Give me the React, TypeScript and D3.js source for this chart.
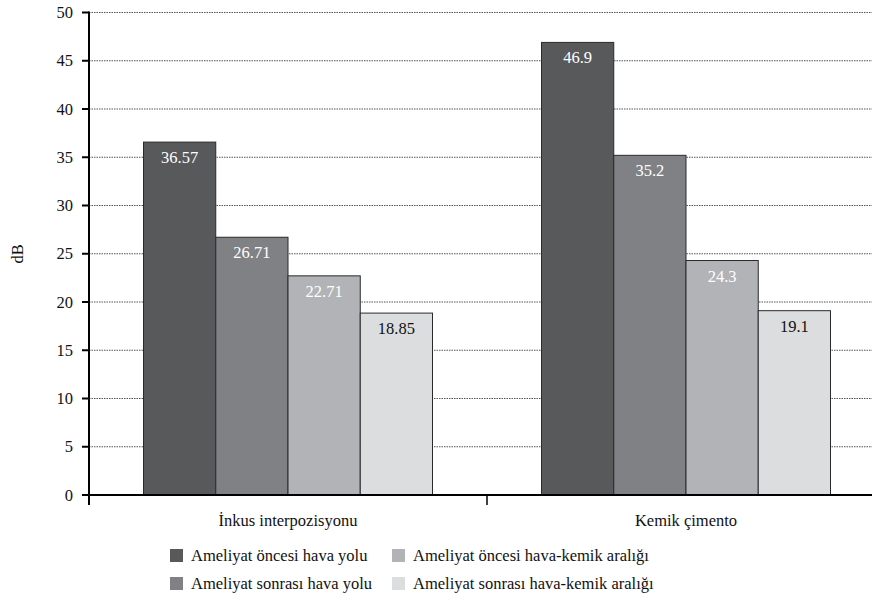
import React from "react";
import * as d3 from "d3";

const categories = ["İnkus interpozisyonu", "Kemik çimento"];
const seriesNames = [
  "Ameliyat öncesi hava yolu",
  "Ameliyat sonrası hava yolu",
  "Ameliyat öncesi hava-kemik aralığı",
  "Ameliyat sonrası hava-kemik aralığı",
];
const values = [
  [36.57, 26.71, 22.71, 18.85],
  [46.9, 35.2, 24.3, 19.1],
];
const valueLabels = [
  ["36.57", "26.71", "22.71", "18.85"],
  ["46.9", "35.2", "24.3", "19.1"],
];
const yTicks = [0, 5, 10, 15, 20, 25, 30, 35, 40, 45, 50];
const colors = ["#58595b", "#808184", "#b1b3b6", "#dcdddf"];
const labelColors = ["#ffffff", "#ffffff", "#ffffff", "#111111"];

const FONT = "Liberation Serif";

function T(props: any) {
  return <text className="lbl" fontFamily={FONT} fontSize={16.5} {...props} />;
}

export default function App() {
  const W = 872, H = 600;
  const left = 89, right = 885, top = 12.5, bottom = 495;
  const y = d3.scaleLinear().domain([0, 50]).range([bottom, top]);
  const x0 = d3.scaleBand().domain(categories).range([left, right]);
  const groupW = 289;
  const x1 = d3.scaleBand().domain(seriesNames).range([0, groupW]);

  return (
    <svg width={W} height={H} style={{ position: "absolute", left: 0, top: 0, background: "#fff" }}>
      <style>{`svg text.lbl { font-family: "Liberation Serif", "Times New Roman", serif !important; font-size: 16.5px; }`}</style>
      {yTicks.slice(1).map((t) => (
        <line key={t} x1={left} x2={W} y1={y(t)} y2={y(t)} stroke="#555" strokeWidth={1} strokeDasharray="1.5,1" />
      ))}
      {categories.map((c, ci) => {
        const gx = x0(c)! + x0.bandwidth() / 2 - groupW / 2;
        return (
          <g key={c}>
            {seriesNames.map((s, si) => {
              const v = values[ci][si];
              const bx = gx + x1(s)!;
              return (
                <g key={s}>
                  <rect x={bx} y={y(v)} width={x1.bandwidth()} height={y(0) - y(v)} fill={colors[si]} stroke="#2a2a2a" strokeWidth={1} />
                  <T x={bx + x1.bandwidth() / 2} y={y(v) + 21} textAnchor="middle" fill={labelColors[si]}>
                    {valueLabels[ci][si]}
                  </T>
                </g>
              );
            })}
            <T x={x0(c)! + x0.bandwidth() / 2} y={526} textAnchor="middle" fill="#111">
              {c}
            </T>
          </g>
        );
      })}
      <line x1={left} x2={left} y1={top - 1} y2={505} stroke="#000" strokeWidth={2} />
      <line x1={left} x2={W} y1={bottom} y2={bottom} stroke="#000" strokeWidth={2} />
      <line x1={x0(categories[1])!} x2={x0(categories[1])!} y1={bottom} y2={505} stroke="#000" strokeWidth={1.5} />
      {yTicks.map((t) => (
        <g key={t}>
          <line x1={82} x2={left} y1={y(t)} y2={y(t)} stroke="#000" strokeWidth={2} />
          <T x={73} y={y(t) + 5.5} textAnchor="end" fill="#111">
            {t}
          </T>
        </g>
      ))}
      <T transform={`translate(23,${(top + bottom) / 2}) rotate(-90)`} textAnchor="middle" fill="#111">
        dB
      </T>
      {seriesNames.map((s, i) => {
        const col = i < 2 ? 0 : 1;
        const row = i % 2;
        const lx = col === 0 ? 170 : 392;
        const ly = 549 + row * 28;
        return (
          <g key={s}>
            <rect x={lx} y={ly} width={13} height={13} fill={colors[i]} />
            <T x={lx + 21} y={ly + 12} fill="#111">
              {s}
            </T>
          </g>
        );
      })}
    </svg>
  );
}
